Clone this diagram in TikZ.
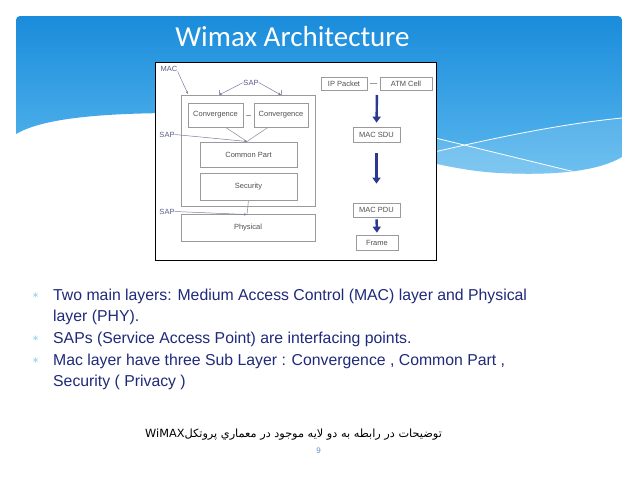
\documentclass[tikz,border=0pt]{standalone}
\usepackage{fontspec}
\setmainfont{Liberation Sans}
\newfontfamily\titlefont{Carlito}
\newfontfamily\arabicfont[Script=Arabic]{DejaVu Sans}
\TeXXeTstate=1
\usetikzlibrary{arrows.meta}
\definecolor{bannertop}{HTML}{1A8CDB}
\definecolor{bannerbot}{HTML}{5AB8EE}
\definecolor{bullettext}{HTML}{1F2A7A}
\definecolor{bulletmark}{HTML}{5BB8E8}
\definecolor{boxgray}{HTML}{9A9A9A}
\definecolor{diagtext}{HTML}{505050}
\definecolor{saptext}{HTML}{5A5A8C}
\definecolor{navyarrow}{HTML}{2B3990}
\definecolor{pagenum}{HTML}{5B8FC8}
\tikzset{
  dbox/.style={draw=boxgray, line width=0.7pt, inner sep=0pt, font=\fontsize{7.5}{8}\selectfont, text=diagtext},
  saplbl/.style={font=\fontsize{7.5}{8}\selectfont, text=saptext, inner sep=0pt},
  sapline/.style={draw=saptext!80, line width=0.5pt, -{Stealth[length=3pt,width=2.5pt]}},
  conn/.style={draw=boxgray, line width=0.6pt},
  bigarrow/.style={draw=navyarrow, line width=2.4pt, -{Triangle[width=8pt,length=6pt]}},
  bulletmk/.style={text=bulletmark, inner sep=0pt, font=\fontsize{13}{13}\selectfont},
  btext/.style={anchor=base west, inner sep=0pt, text=bullettext, font=\fontsize{15.8}{18}\selectfont},
}
\begin{document}
\begin{tikzpicture}[x=1pt,y=-1pt]
\useasboundingbox (0,0) rectangle (638,479);
\fill[white] (0,0) rectangle (638,479);
% banner
\def\bannerpath{(16,134) [rounded corners=4pt] -- (16,16) -- (622,16) -- (622,40) [sharp corners] -- (622,157)
  .. controls (600,170) and (560,176) .. (500,173)
  .. controls (400,168) and (300,110) .. (180,113)
  .. controls (90,113) and (40,120) .. (16,134) -- cycle}
\shade[top color=bannertop, bottom color=bannerbot] \bannerpath;
\begin{scope}
  \clip \bannerpath;
  \fill[white, opacity=0.12] (380,165) .. controls (470,143) and (550,125) .. (622,118) -- (640,118) -- (640,200) -- (380,200) -- cycle;
  \fill[white, opacity=0.12] (380,124.5) -- (575,172) -- (575,200) -- (380,200) -- cycle;
  \draw[white, line width=0.8pt] (380,165) .. controls (470,143) and (550,125) .. (622,118);
  \draw[white, line width=0.8pt] (380,124.5) -- (575,172);
\end{scope}
\node (title) [anchor=base, text=white, inner sep=0pt, font=\titlefont\fontsize{29}{29}\selectfont] at (292.5,46) {Wimax Architecture};
% diagram picture
\node (img) [draw=black, fill=white, line width=0.8pt, minimum width=281pt, minimum height=198pt, inner sep=0pt, anchor=north west] at (155,62) {};
\node (mac) [dbox, minimum width=134pt, minimum height=111pt] at (248,150.5) {};
\node (conv1) [dbox, minimum width=55pt, minimum height=24pt] at (215.5,115) {Convergence};
\node (conv2) [dbox, minimum width=54pt, minimum height=24pt] at (281,115) {Convergence};
\node (common) [dbox, minimum width=97pt, minimum height=25pt] at (248.5,154.5) {Common Part};
\node (security) [dbox, minimum width=97pt, minimum height=27pt] at (248.5,186.5) {Security};
\node (physical) [dbox, minimum width=134pt, minimum height=27pt] at (248,227.5) {Physical};
\draw[conn] ([xshift=3pt]conv1.east) -- ([xshift=-3pt]conv2.west);
% labels and SAPs
\node (maclbl) [saplbl] at (169,68.5) {MAC};
\node (saptop) [saplbl] at (251,82.5) {SAP};
\node (sapmid) [saplbl] at (167,134.5) {SAP};
\node (sapbot) [saplbl] at (167,211.5) {SAP};
\coordinate (macTip) at (188,94);
\coordinate (sapL) at (219,95);
\coordinate (sapR) at (281,95);
\coordinate (j1) at (247,141.5);
\coordinate (j2) at (247,214.5);
\draw[sapline] (maclbl.south east) -- (macTip);
\draw[sapline] (saptop.west) -- (sapL);
\draw[sapline] (saptop.east) -- (sapR);
\draw[conn] (sapL) -- ++(0,-5);
\draw[conn] (sapR) -- ++(0,-5);
\draw[conn] ([xshift=10pt]conv1.south) -- (j1);
\draw[conn] ([xshift=-13pt]conv2.south) -- (j1);
\draw[sapline] (sapmid.east) -- (j1);
\draw[conn] (security.south) -- (j2);
\draw[sapline] (sapbot.east) -- (j2);
% right column
\node (ip) [dbox, minimum width=46pt, minimum height=13pt] at (344,83.5) {IP Packet};
\node (atm) [dbox, minimum width=52pt, minimum height=13pt] at (406,83.5) {ATM Cell};
\draw[conn] ([xshift=3pt]ip.east) -- ([xshift=-3pt]atm.west);
\node (sdu) [dbox, minimum width=47pt, minimum height=15pt] at (376.5,134.5) {MAC SDU};
\node (pdu) [dbox, minimum width=47pt, minimum height=14pt] at (376.5,210) {MAC PDU};
\node (frame) [dbox, minimum width=42pt, minimum height=15pt] at (377,242.5) {Frame};
\coordinate (rowbot) at (377,90);
\draw[bigarrow, shorten <=5pt, shorten >=4pt] (rowbot) -- (sdu.north);
\draw[bigarrow, shorten <=11pt, shorten >=19pt] (sdu.south) -- (pdu.north);
\draw[bigarrow, shorten <=2pt, shorten >=2pt] (pdu.south) -- (frame.north);
% bullets
\node (b1) [bulletmk] at (35.5,296) {$\ast$};
\node (b2) [bulletmk] at (35.5,339) {$\ast$};
\node (b3) [bulletmk] at (35.5,361) {$\ast$};
\node (t1) [btext] at (53,300.5) {Two main layers: Medium Access Control (MAC) layer and Physical};
\node (t2) [btext] at (53,321.5) {layer (PHY).};
\node (t3) [btext] at (53,343.5) {SAPs (Service Access Point) are interfacing points.};
\node (t4) [btext] at (53,365.5) {Mac layer have three Sub Layer : Convergence , Common Part ,};
\node (t5) [btext] at (53,386.5) {Security ( Privacy )};
% persian caption
\node (fa) [anchor=base, inner sep=0pt, text=black, font=\arabicfont\fontsize{11.3}{14}\selectfont] at (293.5,437) {\beginR توضیحات در رابطه به دو لایه موجود در معماري پروتکل\beginL WiMAX\endL\endR};
\node (pg) [text=pagenum, inner sep=0pt, font=\fontsize{8}{9}\selectfont] at (318.5,451) {9};
\end{tikzpicture}
\end{document}
